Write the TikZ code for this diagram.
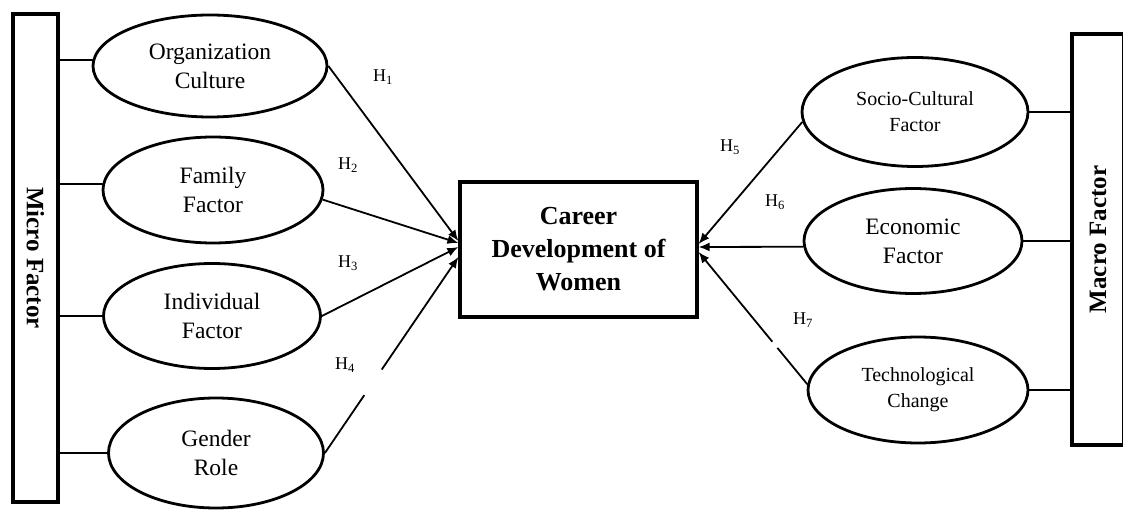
\documentclass[tikz,border=0pt]{standalone}
\usepackage{fontspec}
\setmainfont{Liberation Serif}
\usetikzlibrary{shapes.geometric,arrows.meta}

\begin{document}
\begin{tikzpicture}[
			x=1pt, y=1pt,
			barra/.style={rectangle, draw=black, line width=3.2pt, inner sep=0pt, font=\fontsize{25}{30}\selectfont\bfseries},
			centro/.style={rectangle, draw=black, line width=3.2pt, inner sep=0pt, align=center, font=\fontsize{26}{33}\selectfont\bfseries},
			ovale/.style={ellipse, draw=black, line width=2.8pt, inner sep=0pt, align=center, font=\fontsize{23.5}{29}\selectfont},
			piccolo/.style={font=\fontsize{20}{26}\selectfont},
			legame/.style={line width=1.8pt, line cap=round, black},
			freccia/.style={line width=1.8pt, black, -{Latex[length=11pt,width=9pt]}},
			ipo/.style={inner sep=0pt, font=\fontsize{18}{20}\selectfont},
			]
			
			\useasboundingbox (0,0) rectangle (1123,509);
			
			\def\w{218}
			\def\h{106}
			
			%% ── fattori micro ──────────────────────────────────────
			\node[barra, rotate=-90, minimum width=488, minimum height=45] (micro) at (35.5,251) {Micro Factor};
			\node[ovale, minimum width=234, minimum height=102] (org) at (210,443) {Organization\\Culture};
			\node[ovale, minimum width=220, minimum height=\h] (fam) at (213,319) {Family\\Factor};
			\node[ovale, minimum width=217, minimum height=105] (ind) at (212,193) {Individual\\Factor};
			\node[ovale, minimum width=215, minimum height=110] (gen) at (216,56) {Gender\\Role};
			\draw[legame](org.177)--(org.177 -| micro.north);
			\draw[legame](fam.177)--(fam.177 -| micro.north);
			\draw[legame](ind.west)--(ind.west -| micro.north);
			\draw[legame](gen.west)--(gen.west -| micro.north);
			
			%% ── centro ─────────────────────────────────────────────
			\node[centro, minimum width=237, minimum height=135] (career) at (578.5,259.5) {Career\\Development of\\Women};
			
			%% ── fattori macro ──────────────────────────────────────
			\node[barra, rotate=90, minimum width=411, minimum height=52] (macro) at (1098,269.5) {Macro Factor};
			\node[ovale, piccolo, minimum width=226, minimum height=109] (soc) at (915,397) {Socio-Cultural\\Factor};
			\node[ovale, minimum width=\w, minimum height=105] (eco) at (913,268) {Economic\\Factor};
			\node[ovale, piccolo, minimum width=220, minimum height=\h] (tec) at (918,119) {Technological\\Change};
			\draw[legame](soc.east)--(soc.east -| macro.north);
			\draw[legame](eco.east)--(eco.east -| macro.north);
			\draw[legame](tec.east)--(tec.east -| macro.north);
			
			%% ── ipotesi ────────────────────────────────────────────
			\draw[freccia](org.east)--([yshift=8.5pt]career.west);
			\draw[freccia](fam.-5)--([yshift=6.5pt]career.west);
			\draw[freccia](ind.east)--([yshift=2.5pt]career.west);
			\draw[freccia, dash pattern=on 70pt off 31pt on 400pt](gen.east)--([yshift=-7.5pt]career.west);
			\draw[freccia](soc.185)--([yshift=5.5pt]career.east);
			\draw[freccia](eco.183)--([yshift=2.5pt]career.east);
			\draw[freccia, dash pattern=on 47pt off 8pt on 300pt](tec.177)--([yshift=-2.5pt]career.east);
			\node[ipo] (h1) at (383,432) {H\textsubscript{1}};
			\node[ipo] (h2) at (348,344) {H\textsubscript{2}};
			\node[ipo] (h3) at (348,246) {H\textsubscript{3}};
			\node[ipo] (h4) at (345,144) {H\textsubscript{4}};
			\node[ipo] (h5) at (730,362) {H\textsubscript{5}};
			\node[ipo] (h6) at (775,307) {H\textsubscript{6}};
			\node[ipo] (h7) at (803,189) {H\textsubscript{7}};
			
\end{tikzpicture}
\end{document}
